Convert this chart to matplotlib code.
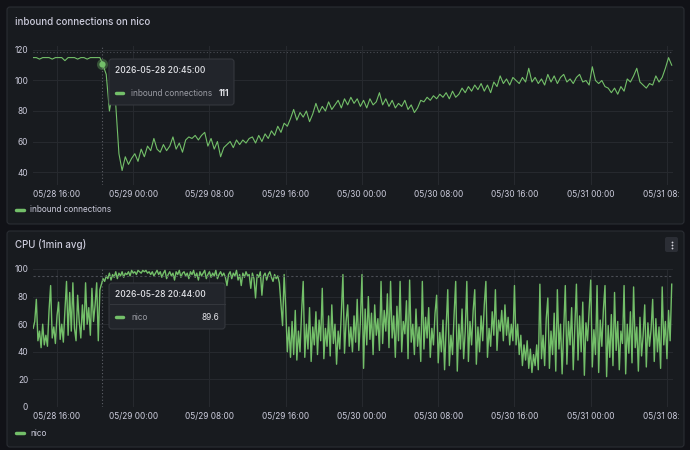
import matplotlib
matplotlib.use("Agg")
import matplotlib.pyplot as plt
import matplotlib.dates as mdates
from matplotlib.patches import FancyBboxPatch
from matplotlib.transforms import Bbox, TransformedBbox
import pandas as pd

plt.rcParams['font.family'] = ['Inter', 'DejaVu Sans']

# inbound connections on nico, one sample every 20 min from 05/28 13:30
inbound = [
    115, 115, 114, 115, 115, 115, 114, 115, 115, 115, 113, 115, 115, 115, 114, 115, 115, 114, 115, 115, 115,
    115, 110, 104, 80, 92, 84, 52, 41, 50, 45,
    49, 52, 47, 55, 50, 57, 54, 62, 55, 53,
    58, 54, 57, 63, 55, 59, 53, 61, 63, 62,
    64, 61, 64, 66, 57, 62, 55, 60, 50, 56,
    58, 60, 56, 61, 58, 61, 59, 62, 63, 59,
    64, 60, 65, 62, 67, 64, 70, 66, 72, 70,
    75, 81, 74, 79, 76, 80, 73, 78, 85, 79,
    83, 80, 86, 81, 84, 87, 82, 88, 84, 89,
    85, 88, 83, 87, 82, 88, 84, 86, 92, 84,
    88, 83, 87, 82, 85, 83, 87, 81, 84, 79,
    82, 87, 86, 89, 87, 90, 88, 91, 89, 92,
    88, 93, 89, 91, 95, 92, 96, 93, 97, 94,
    98, 93, 97, 92, 99, 96, 103, 98, 101, 97, 102,
    100, 98, 102, 99, 108, 99, 102, 98, 101, 97,
    104, 99, 103, 98, 102, 104, 99, 101, 98, 102,
    104, 99, 100, 97, 109, 100, 98, 100, 96, 95,
    92, 95, 91, 96, 93, 101, 99, 103, 108, 99,
    97, 95, 98, 97, 103, 99, 102, 108, 115, 110,
]

# CPU (1min avg) on nico, one sample every 10 min from 05/28 13:30
cpu = [
    57, 62, 78, 48, 55, 43, 60, 45, 52, 44, 70, 88, 50, 58, 46, 66, 76, 49, 60, 47,
    70, 91, 52, 83, 55, 90, 57, 48, 81, 62, 50, 74, 56, 90, 60, 72, 52, 86, 62, 74,
    90, 48, 85,
    89, 93,
    91, 95, 93, 97, 92, 96, 94, 98, 93, 97, 95, 98, 94, 97, 96,
    98, 95, 99, 97, 98, 96, 99, 98, 97, 99, 98, 99, 97, 98, 96, 98, 95, 97, 99, 96,
    98, 94, 97, 99, 93, 96, 98, 95, 97, 92, 98, 96, 99, 94, 97, 98, 95, 97, 93, 98,
    96, 99, 94, 97, 92, 98, 95, 97, 99, 93, 96, 98, 94, 97, 95, 99, 93, 96, 98, 95,
    97, 94, 88, 96, 98, 93, 97, 95, 99, 92, 96, 88, 97, 94, 98, 95, 96, 86, 97, 93,
    79, 96, 94, 98, 81, 95, 97, 92, 96, 98, 94, 91, 96, 93, 95, 90,
    75, 59, 96, 72, 40, 58, 36,
    62, 38, 70, 34, 55, 40, 69, 91, 36, 60, 42, 72, 33, 58, 45, 69, 38, 63, 48, 86,
    35, 57, 44, 66, 37, 74, 46, 60, 31, 55, 42, 68, 96, 39, 62, 74, 44, 58, 40,
    66, 47, 78, 41, 62, 96, 28, 71, 45, 80, 49, 68, 38, 74, 52, 64, 41, 91, 46, 70,
    55, 82, 43, 91, 50, 66, 36, 73, 48, 91, 40, 62, 53, 77, 35, 92, 47, 60, 38, 71,
    44, 58, 33, 91, 42, 65, 50, 72, 36, 57, 45, 68, 81, 32, 54, 40, 63, 27, 58, 85,
    30, 52, 38, 67, 91, 26, 60, 42, 71, 35, 55, 91, 33, 62, 45, 70, 85, 31, 58, 40,
    66, 48, 74, 91, 36, 57, 44, 69, 52, 85, 41, 63, 55, 70, 48, 74, 52, 65, 45, 60,
    48,
    88, 45, 60, 38, 52, 30, 45, 34, 48, 28, 42, 25, 38, 30, 45, 27, 89, 35,
    52, 30, 64, 79, 28, 55, 38, 68, 26, 85, 42, 60, 24, 57, 88, 31, 62, 45, 72, 27,
    58, 89, 34, 66, 40, 76, 23, 61, 48, 70, 92, 29, 56, 38, 88, 25, 63, 44, 71, 88,
    22, 59, 36, 67, 30, 83, 41, 62, 27, 55, 46, 88, 24, 60, 39, 69, 32, 87, 43, 58,
    26, 65, 37, 52, 74, 29, 61, 44, 56, 78, 33, 64, 40, 58, 28, 87, 45, 62, 35, 70,
    48, 89,
]

inbound_times = pd.date_range('2026-05-28 13:30', periods=len(inbound), freq='20min')
cpu_times = pd.date_range('2026-05-28 13:30', periods=len(cpu), freq='10min')

hover_inbound_time = pd.Timestamp('2026-05-28 20:45:00')
hover_inbound_value = 111
hover_cpu_time = pd.Timestamp('2026-05-28 20:44:00')
hover_cpu_value = 89.6
cursor_y_inbound = 118.7
cursor_y_cpu = 94.6

x_start = pd.Timestamp('2026-05-28 13:29')
x_end = pd.Timestamp('2026-05-31 08:38')

BG = '#111217'
PANEL = '#181b1f'
BORDER = '#2a2d33'
GRID = '#26292e'
TEXT = '#ccccdc'
TEXT2 = '#9a9ca4'
GREEN = '#73bf69'
W, H = 690, 450

fig = plt.figure(figsize=(6.9, 4.5), dpi=100, facecolor=BG)


def frac(x0, y0, x1, y1):
    # pixel box -> figure fraction [left, bottom, width, height]
    return [x0 / W, 1 - y1 / H, (x1 - x0) / W, (y1 - y0) / H]


# background layer with the two panels
bg = fig.add_axes([0, 0, 1, 1], zorder=0)
bg.set_xlim(0, W)
bg.set_ylim(H, 0)
bg.axis('off')
for y0, y1 in [(7, 224), (231, 447)]:
    bg.add_patch(FancyBboxPatch((7, y0), 677, y1 - y0, boxstyle='round,pad=0,rounding_size=3',
                                facecolor=PANEL, edgecolor=BORDER, linewidth=0.8))

# tick labels get cut at the panel's inner right edge, as in the dashboard
panel_clip = TransformedBbox(Bbox.from_extents(0, 0, 679 / W, 1), fig.transFigure)


def style_axis(ax, ylim, yticks):
    ax.set_facecolor('none')
    ax.set_xlim(x_start, x_end)
    ax.set_ylim(*ylim)
    ax.set_yticks(yticks)
    ax.xaxis.set_major_locator(mdates.HourLocator(byhour=[0, 8, 16]))
    ax.xaxis.set_major_formatter(mdates.DateFormatter('%m/%d %H:%M'))
    for s in ax.spines.values():
        s.set_visible(False)
    ax.tick_params(length=0, colors=TEXT, labelsize=6.0, pad=3.5)
    ax.grid(True, color=GRID, linewidth=0.8)
    ax.set_axisbelow(True)


# top panel: inbound connections
ax1 = fig.add_axes(frac(33, 46, 673, 185), zorder=2)
style_axis(ax1, (31.5, 122.6), [40, 60, 80, 100, 120])
ax1.plot(inbound_times, inbound, color=GREEN, linewidth=0.8)
ax1.axvline(hover_inbound_time, color='#5c5f66', linestyle=(0, (1, 2)), linewidth=0.8)
ax1.axhline(cursor_y_inbound, color='#4a4d54', linestyle=(0, (1, 2)), linewidth=0.8)
ax1.plot([hover_inbound_time], [hover_inbound_value], 'o', ms=8, color=GREEN, alpha=0.35, mec='none')
ax1.plot([hover_inbound_time], [hover_inbound_value], 'o', ms=4.5, color=GREEN, mec='none')

# bottom panel: CPU
ax2 = fig.add_axes(frac(33, 269, 673, 407), zorder=2)
style_axis(ax2, (0, 100), [0, 20, 40, 60, 80, 100])
ax2.plot(cpu_times, cpu, color=GREEN, linewidth=1.0)
ax2.axvline(hover_cpu_time, color='#5c5f66', linestyle=(0, (1, 2)), linewidth=0.8)
ax2.axhline(cursor_y_cpu, color='#4a4d54', linestyle=(0, (2, 2)), linewidth=0.8)

# overlay layer: titles, legends, tooltips, menu icon
ov = fig.add_axes([0, 0, 1, 1], zorder=5)
ov.set_xlim(0, W)
ov.set_ylim(H, 0)
ov.axis('off')
ov.patch.set_alpha(0)

ov.text(15, 22, 'inbound connections on nico', color=TEXT, fontsize=7.0, fontweight='medium', va='center')
ov.text(15, 245, 'CPU (1min avg)', color=TEXT, fontsize=7.0, fontweight='medium', va='center')

for y, label in [(210, 'inbound connections'), (433, 'nico')]:
    ov.plot([16, 24], [y, y], color=GREEN, linewidth=2.5, solid_capstyle='round')
    ov.text(30, y, label, color=TEXT, fontsize=5.9, va='center')

# tooltip on the top panel
ov.add_patch(FancyBboxPatch((109, 59), 125, 46, boxstyle='round,pad=0,rounding_size=3',
                            facecolor='#22252b', edgecolor='#34373d', linewidth=0.8))
ov.text(115, 70.5, hover_inbound_time.strftime('%Y-%m-%d %H:%M:%S'), color='#e4e5ea',
        fontsize=6.1, fontweight='medium', va='center')
ov.plot([116, 123], [93, 93], color=GREEN, linewidth=2.5, solid_capstyle='round')
ov.text(131, 93, 'inbound connections', color=TEXT2, fontsize=5.9, va='center')
ov.text(219, 93, f'{hover_inbound_value}', color='#e4e5ea', fontsize=5.9, fontweight='bold', va='center')

# tooltip on the bottom panel
ov.add_patch(FancyBboxPatch((109, 283), 116, 46, boxstyle='round,pad=0,rounding_size=3',
                            facecolor='#22252b', edgecolor='#34373d', linewidth=0.8))
ov.text(115, 294.5, hover_cpu_time.strftime('%Y-%m-%d %H:%M:%S'), color='#e4e5ea',
        fontsize=6.1, fontweight='medium', va='center')
ov.plot([109.5, 224.5], [304, 304], color='#34373d', linewidth=0.8)
ov.plot([116, 123], [317, 317], color=GREEN, linewidth=2.5, solid_capstyle='round')
ov.text(131, 317, 'nico', color=TEXT2, fontsize=5.9, va='center')
ov.text(219, 317, f'{hover_cpu_value}', color='#e4e5ea', fontsize=5.9, va='center', ha='right')

# panel menu icon
ov.add_patch(FancyBboxPatch((665, 237), 13, 15, boxstyle='round,pad=0,rounding_size=2',
                            facecolor='#2b2e35', edgecolor='none'))
ov.plot([671.5] * 3, [241.5, 244.5, 247.5], 'o', ms=1.3, color='#d8d9e0', mec='none')

fig.canvas.draw()
for ax in (ax1, ax2):
    for lbl in ax.get_xticklabels():
        lbl.set_clip_on(True)
        lbl.set_clip_box(panel_clip)

fig.savefig('out.png', dpi=100, facecolor=BG)
